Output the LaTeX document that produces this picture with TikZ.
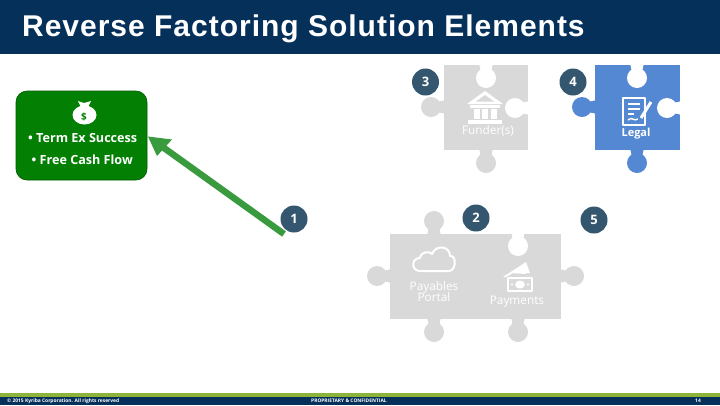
\documentclass[tikz,border=0pt]{standalone}
\usepackage{fontspec}
\setmainfont{Open Sans}
\newfontfamily\heros[LetterSpace=3.3]{Liberation Sans}
\definecolor{navy}{HTML}{04305A}
\definecolor{badge}{HTML}{34566F}
\definecolor{puzgray}{HTML}{D9D9D9}
\definecolor{puzblue}{HTML}{5588D2}
\definecolor{boxgreen}{HTML}{038003}
\definecolor{arrgreen}{HTML}{3A9A3E}
\definecolor{barlime}{HTML}{8DB33A}
\tikzset{
 badgec/.style={circle,fill=badge,minimum size=27pt,inner sep=0pt,text=white,font=\bfseries\fontsize{13}{13}\selectfont},
 lbl/.style={text=white,font=\fontsize{11.8}{13}\selectfont,align=center,inner sep=0pt},
 foot/.style={text=white,font=\bfseries\fontsize{4.9}{5}\selectfont,inner sep=0pt},
 bul/.style={text=white,font=\bfseries\fontsize{12.6}{14}\selectfont,inner sep=0pt},
}
% knob: #1 edge point x, #2 edge point y, #3 unit x, #4 unit y (outward), #5 colour
\newcommand{\knob}[5]{%
 \fill[#5] ({#1-7*(#4)-(#3)},{#2-7*(#3)-(#4)}) .. controls ({#1-5*(#4)+4*(#3)},{#2-5*(#3)+4*(#4)}) and ({#1-5*(#4)+6*(#3)},{#2-5*(#3)+6*(#4)}) .. ({#1-8*(#4)+9*(#3)},{#2-8*(#3)+9*(#4)})
 -- ({#1+8*(#4)+9*(#3)},{#2+8*(#3)+9*(#4)}) .. controls ({#1+5*(#4)+6*(#3)},{#2+5*(#3)+6*(#4)}) and ({#1+5*(#4)+4*(#3)},{#2+5*(#3)+4*(#4)}) .. ({#1+7*(#4)-(#3)},{#2+7*(#3)-(#4)}) -- cycle;
 \fill[#5] ({#1+13*(#3)},{#2+13*(#4)}) circle (10);}
\begin{document}
\begin{tikzpicture}[x=1pt,y=-1pt]
\useasboundingbox (0,0) rectangle (720,405);
\fill[white] (0,0) rectangle (720,405);
% header
\fill[navy] (0,0) rectangle (720,54);
\node[anchor=base west,text=white,inner sep=0pt,font=\heros\bfseries\fontsize{30}{32}\selectfont] (title) at (22,36.7) {Reverse Factoring Solution Elements};
% footer
\fill[barlime] (0,393) rectangle (720,396.5);
\fill[navy] (0,396.5) rectangle (720,405);
\node[foot,anchor=west] (copy) at (7,401) {© 2015 Kyriba Corporation. All rights reserved};
\node[foot,anchor=west] (prop) at (311,401) {PROPRIETARY \& CONFIDENTIAL};
\node[foot,anchor=east] (pg) at (701,401) {14};
% funder piece
\fill[puzgray] (444,65) rectangle (528,150);
\knob{444}{107}{-1}{0}{puzgray}
\knob{486}{150}{0}{1}{puzgray}
\knob{486}{65}{0}{1}{white}
\knob{528}{108}{-1}{0}{white}
% legal piece
\fill[puzblue] (595,65) rectangle (680,150);
\knob{595}{107}{-1}{0}{puzblue}
\knob{637}{150}{0}{1}{puzblue}
\knob{637}{65}{0}{1}{white}
\knob{680}{108}{-1}{0}{white}
% bottom piece
\fill[puzgray] (390,234) rectangle (561,319);
\knob{434}{234}{0}{-1}{puzgray}
\knob{390}{276}{-1}{0}{puzgray}
\knob{561}{276}{1}{0}{puzgray}
\knob{434}{319}{0}{1}{puzgray}
\knob{518}{319}{0}{1}{puzgray}
\knob{518}{233}{0}{1}{white}
% bank icon
\fill[white] (485,91) -- (467,104) -- (503,104) -- cycle;
\fill[puzgray] (485,95) -- (476,101.5) -- (494,101.5) -- cycle;
\fill[white] (470,105) rectangle (500,107.5);
\foreach \xx in {473.5,482,490.5} \fill[white] (\xx,109) rectangle (\xx+6,119);
\fill[white] (468,120) rectangle (502,124);
\node[lbl] (funder) at (488,131) {Funder(s)};
% legal icon
\draw[white,line width=2.5pt,line join=round] (623,98) rectangle (645,125);
\foreach \yy/\xe in {104/640,109/640,114/634} \draw[white,line width=1.6pt] (628,\yy) -- (\xe,\yy);
\draw[white,line width=1.4pt] (628,120) .. controls (632,116) and (634,122) .. (638,119);
\draw[white,line width=3pt] (641,118) -- (651,102);
\node[lbl,font=\bfseries\fontsize{11}{13}\selectfont] (legal) at (636,134) {Legal};
% cloud icon
\draw[white,line width=2pt,line join=round] (420,271) .. controls (411,271) and (411,258) .. (420,258)
 .. controls (421,251) and (430,251) .. (432,254) .. controls (436,244) and (450,246) .. (450,256)
 .. controls (457,255) and (456,271) .. (449,271) -- cycle;
\node[lbl] (portal) at (434,291.5) {Payables\\[-1.5pt]Portal};
% money icon
\draw[white,line width=1.6pt,line join=round] (508,278) -- (508,291) -- (532,291) -- (532,278) -- cycle;
\fill[white] (520,284.5) ellipse (5 and 4);
\fill[white] (512,284.5) circle (1.2);
\fill[white] (528,284.5) circle (1.2);
\fill[white] (503,277) -- (526,262) -- (530,273) -- (524,273) -- (522,268) -- (506,277) -- cycle;
\fill[white] (510,273) -- (522,266) -- (526,274) -- cycle;
\node[lbl] (pay) at (517,302) {Payments};
% green box
\node[draw=boxgreen!70!black,fill=boxgreen,rounded corners=11pt,line width=.6pt,minimum width=131pt,minimum height=89pt,inner sep=0pt] (goal) at (81.5,135.5) {};
\fill[white] (84.5,115) ellipse (12 and 9.5);
\fill[white] (78,101) -- (84,103) -- (91,101) -- (88,107) -- (81,107) -- cycle;
\node[text=boxgreen,inner sep=0pt,font=\bfseries\fontsize{10}{10}\selectfont] (dollar) at (84,117) {\$};
\node[bul,anchor=west] (t1) at (28,137.5) {• Term Ex Success};
\node[bul,anchor=west] (t2) at (31.5,159.5) {• Free Cash Flow};
% arrow
\coordinate (tail) at (284,234);
\coordinate (tip) at (148,136.5);
\draw[arrgreen,line width=6.5pt,shorten >=14pt] (tail) -- (tip);
\fill[arrgreen] (tip) -- (172,139.5) -- (157,156) -- cycle;
% badges
\node[badgec] (b1) at (294,219) {1};
\node[badgec] (b2) at (476,218) {2};
\node[badgec] (b3) at (425.5,82) {3};
\node[badgec] (b4) at (573,82) {4};
\node[badgec] (b5) at (594,220) {5};
\end{tikzpicture}
\end{document}
